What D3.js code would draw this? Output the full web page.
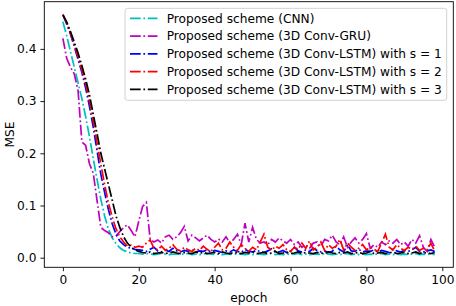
<!DOCTYPE html>
<html>
<head>
<meta charset="utf-8">
<script src="https://cdn.jsdelivr.net/npm/d3@7"></script>
<style>
  body { margin: 0; background: #fff; }
  text { font-family: "DejaVu Sans", sans-serif; }
</style>
</head>
<body>
<div class="chartWrap"></div>
<script>
//Data
const epochs = d3.range(0, 99);
const seriesNames = ["Proposed scheme (CNN)", "Proposed scheme (3D Conv-GRU)", "Proposed scheme (3D Conv-LSTM) with s = 1", "Proposed scheme (3D Conv-LSTM) with s = 2", "Proposed scheme (3D Conv-LSTM) with s = 3"];
const cnnMse = [0.452,0.425,0.395,0.365,0.335,0.305,0.27,0.232,0.19,0.15,0.112,0.08,0.055,0.038,0.027,0.019,0.014,0.011,0.009,0.008,0.008,
  0.007,0.008,0.007,0.006,0.007,0.008,0.007,0.006,0.007,0.007,
  0.006,0.007,0.008,0.006,0.007,0.006,0.007,0.008,0.007,0.006,
  0.007,0.006,0.007,0.007,0.006,0.008,0.007,0.006,0.007,0.006,
  0.007,0.007,0.006,0.007,0.008,0.006,0.007,0.006,0.007,0.006,
  0.007,0.008,0.006,0.007,0.006,0.007,0.007,0.006,0.008,0.007,
  0.006,0.007,0.006,0.007,0.008,0.006,0.007,0.006,0.007,0.006,
  0.007,0.006,0.007,0.008,0.006,0.007,0.006,0.007,0.006,0.007,
  0.006,0.007,0.008,0.006,0.007,0.006,0.007,0.006];
const gruMse = [0.42,0.382,0.365,0.352,0.32,0.222,0.215,0.18,0.162,0.11,0.058,0.052,0.048,0.04,0.042,0.05,0.058,0.063,0.052,0.04,0.07,
  0.098,0.106,0.035,0.03,0.034,0.028,0.04,0.043,0.035,0.04,
  0.048,0.06,0.032,0.043,0.038,0.032,0.038,0.043,0.035,0.03,
  0.036,0.03,0.04,0.028,0.035,0.045,0.025,0.066,0.03,0.058,
  0.035,0.028,0.03,0.025,0.035,0.03,0.038,0.032,0.028,0.035,
  0.025,0.03,0.02,0.025,0.018,0.028,0.03,0.022,0.035,0.032,
  0.043,0.03,0.025,0.04,0.02,0.03,0.038,0.028,0.035,0.046,
  0.018,0.025,0.02,0.03,0.025,0.032,0.028,0.035,0.025,0.03,
  0.022,0.035,0.028,0.042,0.02,0.012,0.035,0.02];
const lstm1Mse = [0.465,0.448,0.428,0.405,0.38,0.355,0.325,0.29,0.25,0.205,0.16,0.125,0.092,0.065,0.045,0.032,0.025,0.02,0.018,0.016,0.015,
  0.014,0.012,0.016,0.02,0.013,0.011,0.015,0.012,0.018,0.013,
  0.011,0.014,0.012,0.016,0.011,0.013,0.012,0.015,0.011,0.014,
  0.012,0.01,0.013,0.011,0.015,0.012,0.01,0.016,0.012,0.011,
  0.014,0.012,0.01,0.013,0.017,0.012,0.011,0.014,0.01,0.012,
  0.02,0.013,0.011,0.015,0.012,0.018,0.014,0.011,0.013,0.01,
  0.012,0.022,0.015,0.011,0.025,0.013,0.012,0.016,0.011,0.013,
  0.012,0.015,0.011,0.014,0.012,0.01,0.016,0.013,0.011,0.014,
  0.012,0.015,0.02,0.012,0.011,0.013,0.015,0.012];
const lstm2Mse = [0.466,0.45,0.43,0.408,0.385,0.36,0.333,0.3,0.262,0.22,0.18,0.14,0.105,0.078,0.055,0.04,0.03,0.022,0.024,0.02,0.022,
  0.02,0.028,0.034,0.018,0.015,0.022,0.014,0.018,0.025,0.016,
  0.013,0.02,0.015,0.012,0.018,0.014,0.022,0.016,0.012,0.02,
  0.028,0.015,0.018,0.03,0.02,0.014,0.025,0.018,0.012,0.02,
  0.015,0.03,0.045,0.02,0.014,0.022,0.018,0.025,0.015,0.012,
  0.02,0.016,0.028,0.018,0.032,0.015,0.02,0.03,0.014,0.025,
  0.018,0.022,0.035,0.015,0.028,0.02,0.014,0.018,0.025,0.015,
  0.02,0.016,0.012,0.028,0.045,0.02,0.015,0.025,0.018,0.014,
  0.02,0.016,0.022,0.014,0.018,0.015,0.028,0.012];
const lstm3Mse = [0.465,0.452,0.433,0.413,0.392,0.368,0.342,0.312,0.275,0.238,0.2,0.17,0.14,0.11,0.08,0.058,0.04,0.028,0.02,0.015,0.012,
  0.01,0.009,0.011,0.008,0.009,0.01,0.008,0.009,0.011,0.009,
  0.008,0.01,0.009,0.008,0.011,0.009,0.01,0.008,0.009,0.01,
  0.008,0.011,0.009,0.008,0.01,0.009,0.008,0.01,0.009,0.011,
  0.008,0.009,0.01,0.008,0.009,0.012,0.008,0.009,0.01,0.008,
  0.009,0.011,0.008,0.01,0.009,0.008,0.01,0.009,0.008,0.011,
  0.009,0.008,0.01,0.009,0.011,0.008,0.009,0.01,0.008,0.009,
  0.012,0.008,0.009,0.01,0.008,0.009,0.011,0.008,0.009,0.01,
  0.008,0.009,0.011,0.008,0.01,0.009,0.008,0.01];
const xTicks = [0, 20, 40, 60, 80, 100];
const yTicks = [0.0, 0.1, 0.2, 0.3, 0.4];

//Layout
let w = 456,
  h = 306,
  margin = {top: 1.7, right: 2.7, bottom: 38.7, left: 44.3},
  fontSize = 12.2,
  colorArr = ["#00bfbf", "#bf00bf", "#0000ff", "#ff0000", "#000000"],
  dash = "10.7,2.7,1.7,2.7";
let allSeries = [cnnMse, gruMse, lstm1Mse, lstm2Mse, lstm3Mse];

let canvas = d3.select(".chartWrap").append("svg").attr("width", w).attr("height", h);

//Scales (matplotlib style 5% padding)
let xScale = d3.scaleLinear().domain([-4.9, 102.9]).range([margin.left, w - margin.right]);
let yScale = d3.scaleLinear().domain([-0.0184, 0.4904]).range([h - margin.bottom, margin.top]);

//Axes
let xAxis = d3.axisBottom(xScale).tickValues(xTicks).tickSize(3.9).tickPadding(4.2).tickFormat(d3.format("d"));
let yAxis = d3.axisLeft(yScale).tickValues(yTicks).tickSize(3.9).tickPadding(3.9).tickFormat(d3.format(".1f"));
canvas.append("g").attr("class", "axis")
  .attr("transform", "translate(0," + (h - margin.bottom) + ")")
  .call(xAxis);
canvas.append("g").attr("class", "axis")
  .attr("transform", "translate(" + margin.left + ",0)")
  .call(yAxis);
canvas.selectAll(".axis .domain").remove();
canvas.selectAll(".axis text").attr("font-size", fontSize).attr("font-family", "DejaVu Sans").attr("fill", "#000");
canvas.selectAll(".axis line").attr("stroke", "#000").attr("stroke-width", 0.9);

//Lines
let line = d3.line()
  .x(function(d, i) { return xScale(epochs[i]); })
  .y(function(d) { return yScale(d); });
for (let i = 0; i < allSeries.length; i++) {
  canvas.append("path").datum(allSeries[i])
    .attr("d", line).attr("fill", "none")
    .attr("stroke", colorArr[i]).attr("stroke-width", 1.7)
    .attr("stroke-dasharray", dash);
}

//Frame
canvas.append("rect")
  .attr("x", margin.left).attr("y", margin.top)
  .attr("width", w - margin.left - margin.right).attr("height", h - margin.top - margin.bottom)
  .attr("fill", "none").attr("stroke", "#000").attr("stroke-width", 0.9);

//Axis labels
canvas.append("text").text("epoch")
  .attr("x", (margin.left + w - margin.right) / 2).attr("y", 302)
  .attr("text-anchor", "middle").attr("font-size", fontSize);
canvas.append("text").text("MSE")
  .attr("transform", "translate(14," + ((margin.top + h - margin.bottom) / 2) + ") rotate(-90)")
  .attr("text-anchor", "middle").attr("font-size", fontSize);

//Legend
let legend = canvas.append("g");
legend.append("rect").attr("x", 125).attr("y", 8.3).attr("width", 321.7).attr("height", 92)
  .attr("rx", 2.5).attr("fill", "#fff").attr("fill-opacity", 0.8)
  .attr("stroke", "#cccccc").attr("stroke-width", 0.9);
for (let i = 0; i < seriesNames.length; i++) {
  let ly = 18.3 + i * 17.75;
  legend.append("line").attr("x1", 130).attr("x2", 157.5).attr("y1", ly).attr("y2", ly)
    .attr("stroke", colorArr[i]).attr("stroke-width", 1.7).attr("stroke-dasharray", dash);
  legend.append("text").text(seriesNames[i])
    .attr("x", 166.7).attr("y", ly + 4.4).attr("font-size", fontSize);
}
</script>
</body>
</html>
